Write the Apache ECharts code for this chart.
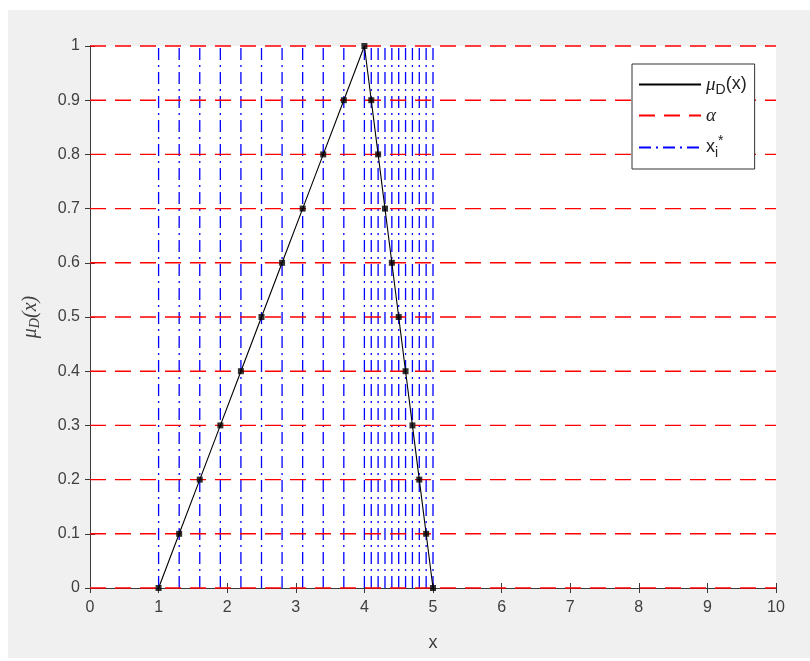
<!DOCTYPE html>
<html>
<head>
<meta charset="utf-8">
<script src="https://cdn.jsdelivr.net/npm/echarts@6/dist/echarts.min.js"></script>
<style>
  html, body { margin: 0; padding: 0; background: #ffffff; width: 810px; height: 661px; overflow: hidden; }
  #chart { position: absolute; left: 8px; top: 10px; width: 802px; height: 648px; }
</style>
</head>
<body>
<div id="chart"></div>
<script>
// ---- data ----
var xTicks = [0, 1, 2, 3, 4, 5, 6, 7, 8, 9, 10];
var alphaLevels = [0, 0.1, 0.2, 0.3, 0.4, 0.5, 0.6, 0.7, 0.8, 0.9, 1];
var xiPoints = [1, 1.3, 1.6, 1.9, 2.2, 2.5, 2.8, 3.1, 3.4, 3.7, 4,
                4.1, 4.2, 4.3, 4.4, 4.5, 4.6, 4.7, 4.8, 4.9, 5];
var muX = [1, 1.3, 1.6, 1.9, 2.2, 2.5, 2.8, 3.1, 3.4, 3.7, 4,
           4.1, 4.2, 4.3, 4.4, 4.5, 4.6, 4.7, 4.8, 4.9, 5];
var muY = [0, 0.1, 0.2, 0.3, 0.4, 0.5, 0.6, 0.7, 0.8, 0.9, 1,
           0.9, 0.8, 0.7, 0.6, 0.5, 0.4, 0.3, 0.2, 0.1, 0];
var xRange = [0, 10];
var yRange = [0, 1];

// ---- chart ----
var chart = echarts.init(document.getElementById('chart'), null, { renderer: 'canvas' });
var axisColor = '#3a3a3a';
var labelColor = '#404040';
var sans = '"Liberation Sans", Arial, Helvetica, sans-serif';
var serif = '"Liberation Serif", "DejaVu Serif", serif';

var muData = muX.map(function (x, i) { return [x, muY[i]]; });

var series = [];
xiPoints.forEach(function (xi) {
  series.push({
    name: 'xi', type: 'line', symbol: 'none', silent: true, clip: false, z: 2,
    itemStyle: { color: '#0000ff' },
    lineStyle: { color: '#0000ff', width: 1.3, type: [12, 5, 2, 5] },
    data: [[xi, yRange[0]], [xi, yRange[1]]]
  });
});
alphaLevels.forEach(function (a) {
  series.push({
    name: 'alpha', type: 'line', symbol: 'none', silent: true, clip: false, z: 3,
    itemStyle: { color: '#ff0000' },
    lineStyle: { color: '#ff0000', width: 1.4, type: [16, 9] },
    data: [[xRange[0], a], [xRange[1], a]]
  });
});
series.push({
  name: 'mu', type: 'line', symbol: 'none', silent: true, clip: false, z: 4,
  itemStyle: { color: '#000000' },
  lineStyle: { color: '#000000', width: 1.1 },
  data: muData
});
series.push({
  name: 'muMarkers', type: 'scatter', symbol: 'rect', symbolSize: 6, silent: true, clip: false, z: 5,
  itemStyle: { color: '#000000' },
  data: muData
});

var option = {
  backgroundColor: '#f0f0f0',
  animation: false,
  grid: { left: 82, top: 36, width: 686, height: 542, show: true, backgroundColor: '#ffffff', borderWidth: 0 },
  xAxis: [{
    type: 'value', min: xRange[0], max: xRange[1], interval: 1,
    name: 'x', nameLocation: 'middle', nameGap: 46,
    nameTextStyle: { fontFamily: sans, fontSize: 18, color: labelColor },
    axisLine: { show: true, lineStyle: { color: axisColor, width: 1 } },
    axisTick: { show: true, inside: true, length: 5, lineStyle: { color: axisColor } },
    axisLabel: { margin: 12, fontFamily: sans, fontSize: 16, color: labelColor },
    splitLine: { show: false }
  }, {
    type: 'value', position: 'top', min: xRange[0], max: xRange[1], interval: 1,
    axisLine: { show: true, lineStyle: { color: axisColor, width: 1 } },
    axisTick: { show: true, inside: true, length: 5, lineStyle: { color: axisColor } },
    axisLabel: { show: false }, splitLine: { show: false }
  }],
  yAxis: [{
    type: 'value', min: yRange[0], max: yRange[1], interval: 0.1,
    name: '{m|μ}{s|D}{m|(x)}', nameLocation: 'middle', nameGap: 48, nameRotate: 90,
    nameTextStyle: {
      color: labelColor,
      rich: {
        m: { fontFamily: serif, fontStyle: 'italic', fontSize: 20, color: labelColor },
        s: { fontFamily: serif, fontStyle: 'italic', fontSize: 14, color: labelColor, padding: [8, 0, 0, 0] }
      }
    },
    axisLine: { show: true, lineStyle: { color: axisColor, width: 1 } },
    axisTick: { show: true, inside: true, length: 5, lineStyle: { color: axisColor } },
    axisLabel: { margin: 10, fontFamily: sans, fontSize: 16, color: labelColor },
    splitLine: { show: false }
  }, {
    type: 'value', position: 'right', min: yRange[0], max: yRange[1], interval: 0.1,
    axisLine: { show: true, lineStyle: { color: axisColor, width: 1 } },
    axisTick: { show: true, inside: true, length: 5, lineStyle: { color: axisColor } },
    axisLabel: { show: false }, splitLine: { show: false }
  }],
  legend: {
    orient: 'vertical', left: 624, top: 54,
    data: ['mu', 'alpha', 'xi'],
    itemWidth: 62, itemHeight: 14, itemGap: 9,
    padding: [11, 8, 9, 6],
    backgroundColor: '#ffffff', borderColor: '#333333', borderWidth: 1,
    selectedMode: false,
    itemStyle: { opacity: 0 },
    formatter: function (name) {
      if (name === 'mu') return '{g|μ}{s|D}{t|(x)}';
      if (name === 'alpha') return '{g|α}';
      return '{t|x}{s|i}{p|*}';
    },
    textStyle: {
      color: '#000000', fontFamily: sans, fontSize: 17,
      rich: {
        g: { fontFamily: serif, fontStyle: 'italic', fontSize: 19, color: '#222' },
        t: { fontFamily: sans, fontSize: 18, color: '#222' },
        s: { fontFamily: sans, fontSize: 14, color: '#222', padding: [11, 0, 0, 0] },
        p: { fontFamily: sans, fontSize: 14, color: '#222', padding: [0, 0, 13, 0] }
      }
    }
  },
  series: series
};
chart.setOption(option);
</script>
</body>
</html>
